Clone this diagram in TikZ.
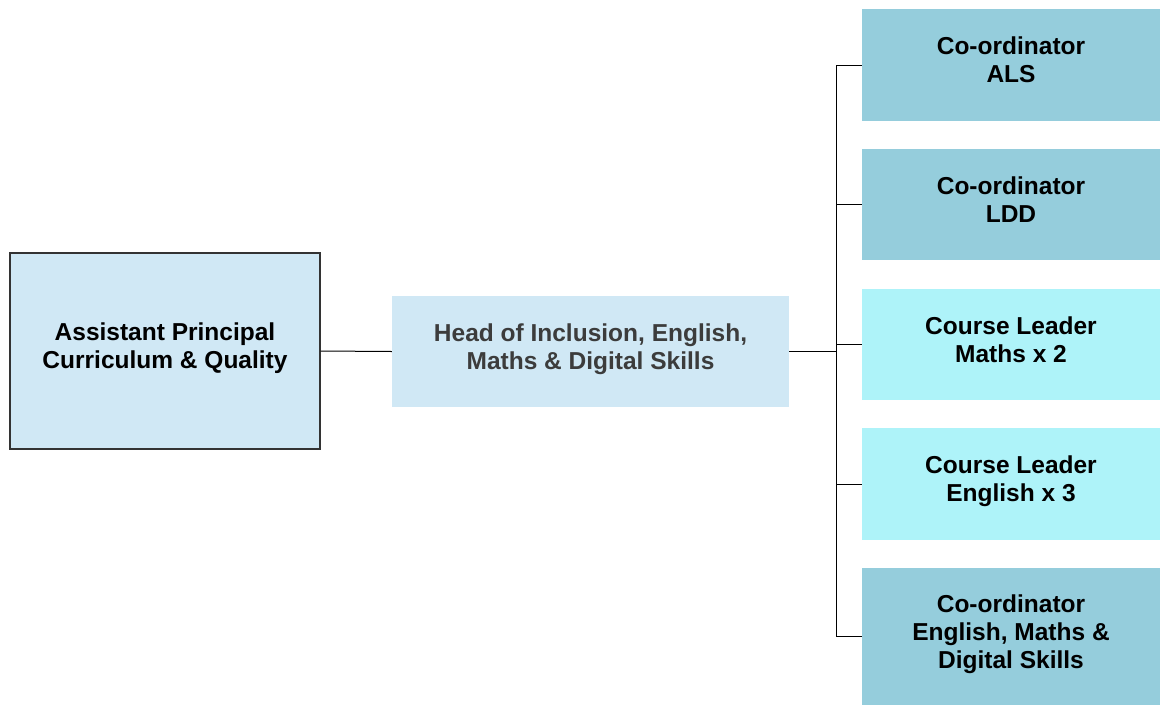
\documentclass[tikz,border=0pt]{standalone}
\usepackage{fontspec}
\setmainfont{Liberation Sans}
\definecolor{lightbox}{HTML}{D0E8F5}
\definecolor{darkbox}{HTML}{95CDDC}
\definecolor{cyanbox}{HTML}{AEF3F9}
\definecolor{headtext}{HTML}{3C3C3C}
\definecolor{bordergray}{HTML}{333333}
\newcommand{\dstrut}{\rule[-10pt]{0pt}{10pt}}
\begin{document}
\begin{tikzpicture}[x=1pt,y=-1pt,
  box/.style={rectangle, inner sep=0pt, align=center,
    font=\bfseries\fontsize{24.5}{28}\selectfont},
  apbox/.style={box, fill=lightbox, draw=bordergray, line width=1.2pt,
    minimum width=310pt, minimum height=196pt},
  headbox/.style={box, fill=lightbox, text=headtext,
    minimum width=397pt, minimum height=111pt},
  rbox/.style={box, minimum width=298pt},
  dark/.style={rbox, fill=darkbox},
  cyan/.style={rbox, fill=cyanbox},
  conn/.style={draw=black, line width=1pt}]
\useasboundingbox (0,0) rectangle (1160,705);
\fill[white] (0,0) rectangle (1160,705);
\node[apbox] (ap) at (165,351) {Assistant Principal\\Curriculum \& Quality\dstrut};
\node[headbox] (head) at (590.5,351.5) {Head of Inclusion, English,\\Maths \& Digital Skills\dstrut};
\node[dark, minimum height=112pt] (als) at (1011,65) {Co-ordinator\\ALS\dstrut};
\node[dark, minimum height=111pt] (ldd) at (1011,204.5) {Co-ordinator\\LDD\dstrut};
\node[cyan, minimum height=111pt] (maths) at (1011,344.5) {Course Leader\\Maths x 2\dstrut};
\node[cyan, minimum height=112pt] (eng) at (1011,484) {Course Leader\\English x 3\dstrut};
\node[dark, minimum height=137pt] (emds) at (1011,636.5) {Co-ordinator\\English, Maths \&\\Digital Skills\dstrut};
\coordinate (bx) at (836,0);
\draw[conn] (ap.east) -- (head.west);
\draw[conn] (head.east) -- (head.east -| bx);
\draw[conn] (als.west) -- (als.west -| bx) -- (emds.west -| bx) -- (emds.west);
\draw[conn] (ldd.west) -- (ldd.west -| bx);
\draw[conn] (maths.west) -- (maths.west -| bx);
\draw[conn] (eng.west) -- (eng.west -| bx);
\end{tikzpicture}
\end{document}
